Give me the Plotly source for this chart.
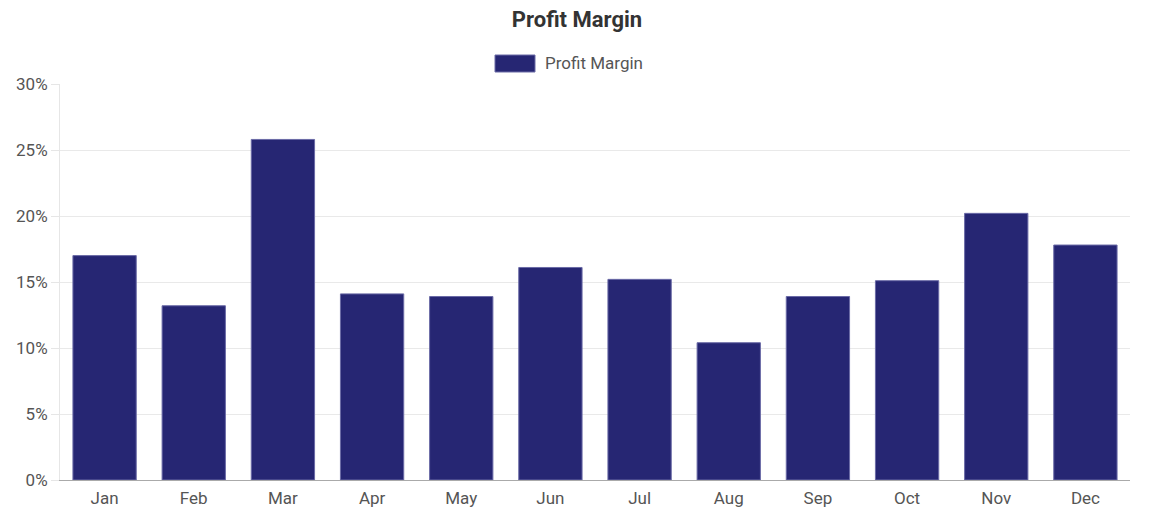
import plotly.graph_objects as go

# values
months = ["Jan", "Feb", "Mar", "Apr", "May", "Jun", "Jul", "Aug", "Sep", "Oct", "Nov", "Dec"]
margin_pct = [17.0, 13.2, 25.8, 14.1, 13.9, 16.1, 15.2, 10.4, 13.9, 15.1, 20.2, 17.8]
y_ticks = [0, 5, 10, 15, 20, 25, 30]
y_tick_text = [f"{v}%" for v in y_ticks]

bar_color = "#262673"
edge_color = "#6a6aa6"

# page puts the figure 8px in from the top-left corner
OFF = 8
W, H = 1150 - OFF, 530 - OFF
L, R, T, B = 60 - OFF, 20, 84 - OFF, 50
pw, ph = W - L - R, H - T - B


def px_x(v):
    return (v - OFF - L) / pw


def px_y(v):
    return (H - B - (v - OFF)) / ph


fig = go.Figure()
fig.add_trace(go.Bar(
    x=months,
    y=margin_pct,
    name="Profit Margin",
    marker=dict(color=bar_color, line=dict(color=edge_color, width=1)),
    showlegend=False,
    hovertemplate="%{x}: %{y}%<extra></extra>",
))

# legend drawn by hand so the swatch matches the wide box
fig.add_shape(
    type="rect", xref="paper", yref="paper",
    x0=px_x(495), x1=px_x(535), y0=px_y(72), y1=px_y(55),
    fillcolor=bar_color, line=dict(color=edge_color, width=1),
)
fig.add_annotation(
    x=px_x(543), y=px_y(63), xref="paper", yref="paper",
    text="Profit Margin", showarrow=False, xanchor="left", yanchor="middle",
    font=dict(family="Roboto", size=17, color="#555555"),
)

fig.update_layout(
    width=W, height=H,
    margin=dict(l=L, r=R, t=T, b=B, autoexpand=False),
    paper_bgcolor="white", plot_bgcolor="white",
    title=dict(
        text="<b>Profit Margin</b>", x=(577 - OFF) / W, xanchor="center",
        y=1 - (19 - OFF) / H, yanchor="middle", yref="container", xref="container",
        font=dict(family="Roboto", size=22, color="#333333"),
    ),
    bargap=0.29,
    font=dict(family="Roboto", size=17, color="#555555"),
    showlegend=False,
)
fig.update_xaxes(
    automargin=False,
    showgrid=False, showline=True, linecolor="#aaaaaa", linewidth=1,
    ticks="outside", ticklen=3, tickcolor="rgba(0,0,0,0)",
    tickfont=dict(size=17, color="#555555"),
)
fig.update_yaxes(
    automargin=False,
    range=[0, 30], tickmode="array", tickvals=y_ticks, ticktext=y_tick_text,
    showgrid=True, gridcolor="#e9e9e9", gridwidth=1,
    zeroline=False, showline=True, linecolor="#e6e6e6",
    ticks="outside", ticklen=8, tickcolor="#e6e6e6",
    tickfont=dict(size=17, color="#555555"),
)

fig.write_html("out.html")
